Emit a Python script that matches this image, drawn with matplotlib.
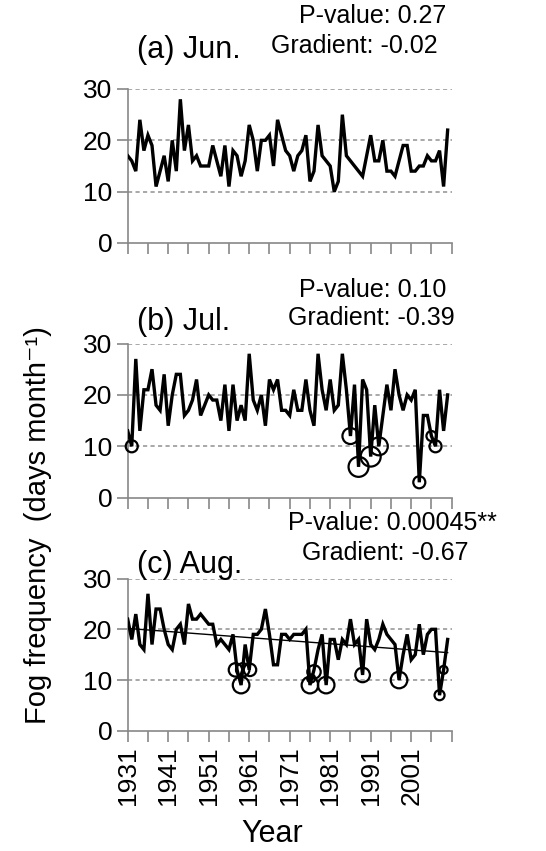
import numpy as np
import matplotlib
matplotlib.use('Agg')
import matplotlib.pyplot as plt

plt.rcParams['font.family'] = ['Liberation Sans', 'DejaVu Sans']

# years 1931-2010, monthly fog days
years = np.arange(1931, 2011)

jun = [17, 16, 14, 24, 18, 21, 19, 11, 14, 17, 12, 20, 14, 28, 18, 23, 16, 17, 15, 15,
       15, 19, 16, 13, 19, 11, 18, 17, 13, 16, 23, 20, 14, 20, 20, 21, 15, 24, 21, 18,
       17, 14, 17, 18, 21, 12, 14, 23, 17, 16, 15, 10, 12, 25, 17, 16, 15, 14, 13, 17,
       21, 16, 16, 20, 14, 14, 13, 16, 19, 19, 14, 14, 15, 15, 17, 16, 16, 18, 11, 22]

jul = [13, 10, 27, 13, 21, 21, 25, 18, 17, 24, 14, 20, 24, 24, 16, 17, 19, 23, 16, 18,
       20, 19, 19, 15, 22, 13, 22, 15, 18, 15, 28, 19, 17, 20, 14, 23, 21, 23, 17, 17,
       16, 21, 17, 17, 23, 17, 14, 28, 21, 17, 23, 17, 18, 28, 21, 12, 22, 6, 23, 21,
       8, 18, 10, 16, 22, 17, 25, 20, 17, 20, 19, 21, 3, 16, 16, 12, 10, 21, 13, 20]

aug = [22, 18, 23, 17, 16, 27, 17, 24, 24, 20, 17, 16, 20, 21, 17, 25, 22, 22, 23, 22,
       21, 21, 17, 18, 17, 16, 19, 12, 9, 17, 12, 19, 19, 20, 24, 19, 13, 13, 19, 19,
       18, 19, 19, 19, 20, 9, 12, 16, 19, 9, 18, 18, 14, 18, 17, 22, 17, 18, 11, 22,
       17, 16, 18, 21, 19, 18, 17, 10, 15, 19, 14, 15, 21, 15, 19, 20, 20, 7, 12, 18]

# circled years (center year, value, marker area)
jul_circ_x = [1932, 1986, 1988, 1991, 1993, 2003, 2006, 2007]
jul_circ_y = [10, 12, 6, 8, 10, 3, 12, 10]
jul_circ_s = [75, 133, 207, 207, 168, 75, 52, 75]

aug_circ_x = [1957.6, 1959.4, 1961.2, 1959, 1976, 1976.3, 1977, 1980, 1989, 1998, 2008, 2009]
aug_circ_y = [12, 12, 12, 9, 9, 10.3, 11.6, 9, 11, 10, 7, 12]
aug_circ_s = [93, 93, 80, 143, 143, 33, 93, 143, 110, 143, 52, 33]

month_labels = ['(a) Jun.', '(b) Jul.', '(c) Aug.']
pvalues = ['P-value: 0.27', 'P-value: 0.10', 'P-value: 0.00045**']
gradients = ['Gradient: -0.02', 'Gradient: -0.39', 'Gradient: -0.67']

W, H = 546, 851
fig = plt.figure(figsize=(W / 100, H / 100), dpi=100)


def fx(px):
    return px / W


def fy(py):
    return 1 - py / H


# panel geometry in pixels: (y of 0, y of 30)
panels = [(243, 89), (497.7, 343.5), (730.7, 578.6)]
x_left, x_right = 127.7, 451.7

tick_pos = list(range(1931, 2012, 5))
series = [jun, jul, aug]
axes = []
for k, (y0, y30) in enumerate(panels):
    ax = fig.add_axes([fx(x_left), fy(y0), fx(x_right) - fx(x_left), (y0 - y30) / H])
    ax.set_xlim(1931, 2011)
    ax.set_ylim(0, 30)
    for v in [10, 20, 30]:
        ax.axhline(v, color='#999999', lw=1.2, linestyle=(0, (2.5, 2)), zorder=0)
    ax.plot(years, series[k], color='black', lw=2.4, solid_joinstyle='miter', zorder=3)
    for s in ['top', 'right']:
        ax.spines[s].set_visible(False)
    for s in ['left', 'bottom']:
        ax.spines[s].set_color('#888888')
        ax.spines[s].set_linewidth(1.2)
    ax.set_yticks([0, 10, 20, 30])
    ax.set_xticks(tick_pos)
    if k == 2:
        ax.set_xticklabels([str(t) if (t - 1931) % 10 == 0 and t < 2011 else '' for t in tick_pos],
                           rotation=90)
    else:
        ax.set_xticklabels([])
    ax.tick_params(direction='out', length=8, width=1.2, color='#888888', labelsize=19, pad=3)
    axes.append(ax)

axes[1].scatter(jul_circ_x, jul_circ_y, s=jul_circ_s, facecolors='none', edgecolors='black',
                linewidths=1.6, zorder=4, clip_on=False)
axes[2].scatter(aug_circ_x, aug_circ_y, s=aug_circ_s, facecolors='none', edgecolors='black',
                linewidths=1.6, zorder=4, clip_on=False)

# linear trend for August
coef = np.polyfit(years, aug, 1)
axes[2].plot(years, np.polyval(coef, years), color='black', lw=1, zorder=2)

# panel annotations
label_y = [50, 322, 565]
pval_y = [16, 290, 523]
grad_y = [46, 318, 553]
pval_x = [299, 299, 288]
grad_x = [271, 288, 302]
for k in range(3):
    fig.text(fx(137), fy(label_y[k]), month_labels[k], fontsize=22, va='center', ha='left')
    fig.text(fx(pval_x[k]), fy(pval_y[k]), pvalues[k], fontsize=18, va='center', ha='left')
    fig.text(fx(grad_x[k]), fy(grad_y[k]), gradients[k], fontsize=18, va='center', ha='left')

fig.text(fx(38), fy(525), 'Fog frequency  (days month\u207b\u00b9)', rotation=90,
         fontsize=21, va='center', ha='center')
fig.text(fx(272), fy(834), 'Year', fontsize=22, va='center', ha='center')

fig.savefig('out.png', dpi=100)
